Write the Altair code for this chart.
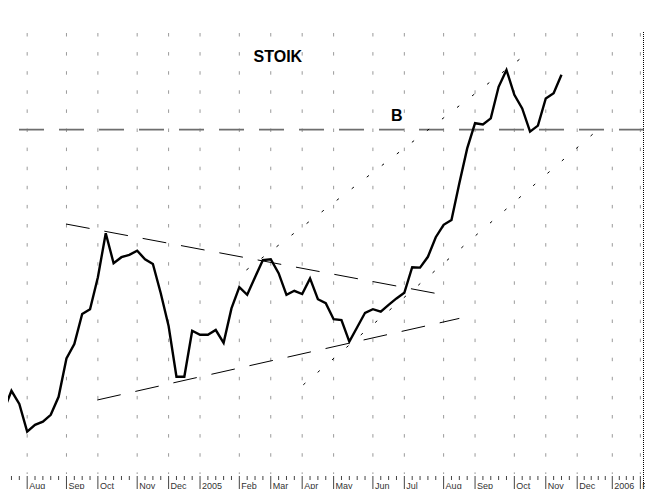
import altair as alt
import pandas as pd

# weekly closing prices (week index 0 = first week of Aug 2004)
weeks = list(range(-3, 69))
price = [1.78, 2.28, 1.95, 1.26, 1.43, 1.51, 1.68, 2.13, 3.09, 3.45, 4.20, 4.32, 5.12,
         6.22, 5.47, 5.62, 5.68, 5.78, 5.57, 5.45, 4.72, 3.90, 2.63,
         2.63, 3.78, 3.68, 3.68, 3.80, 3.48, 4.34, 4.87, 4.68, 5.12,
         5.55, 5.57, 5.22, 4.68, 4.78, 4.70, 5.09, 4.57, 4.47, 4.07,
         4.05, 3.51, 3.87, 4.23, 4.32, 4.26, 4.43, 4.59, 4.73, 5.37,
         5.36, 5.63, 6.12, 6.43, 6.55, 7.47, 8.34, 8.97, 8.94, 9.09,
         9.88, 10.30, 9.68, 9.34, 8.76, 8.91, 9.59, 9.72, 10.18]

# month starts (in week index) and their labels
month_week = [0, 5, 9, 14, 18, 22, 27, 31, 35, 39, 44, 48, 53, 57, 62, 66, 70, 75, 79]
month_label = ["Aug", "Sep", "Oct", "Nov", "Dec", "2005", "Feb", "Mar", "Apr", "May",
               "Jun", "Jul", "Aug", "Sep", "Oct", "Nov", "Dec", "2006", "F"]
minor_week = [w for w in range(-2, 80) if w not in month_week]

# trend lines (start week, start price, end week, end price)
dash_w0 = [4.94, 8.92]
dash_p0 = [6.45, 2.05]
dash_w1 = [52.96, 55.0]
dash_p1 = [4.68, 4.09]

dot_w0 = [27.9, 35.14]
dot_p0 = [5.30, 2.43]
dot_w1 = [63.6, 72.9]
dot_p1 = [10.71, 8.80]

level_b = 8.81

# annotations
ann_text = ["STOIK", "B"]
ann_w = [31.9, 47.05]
ann_p = [10.62, 9.14]

FONT = "Arial, Liberation Sans, sans-serif"
W = 636
xs = alt.Scale(domain=[-2.44, 70, 79.52], range=[0, 569.2, W], nice=False, zero=False)
ys = alt.Scale(domain=[0, 11.85], nice=False, zero=False)

df_price = pd.DataFrame({"w": weeks, "p": price})
df_month = pd.DataFrame({"w": month_week, "label": month_label})
df_minor = pd.DataFrame({"w": minor_week})
df_dash = pd.DataFrame({"w": dash_w0, "p": dash_p0, "w1": dash_w1, "p1": dash_p1})
df_dot = pd.DataFrame({"w": dot_w0, "p": dot_p0, "w1": dot_w1, "p1": dot_p1})
df_b = pd.DataFrame({"p": [level_b]})
df_ann = pd.DataFrame({"w": ann_w, "p": ann_p, "t": ann_text})

X = lambda: alt.X("w:Q", scale=xs, axis=None)
Y = lambda: alt.Y("p:Q", scale=ys, axis=None)

grid = alt.Chart(df_month).mark_rule(color="#9a9a9a", strokeWidth=1, strokeDash=[3.5, 15.6]).encode(
    x=X(), y=alt.value(25), y2=alt.value(466))

border = alt.Chart(df_b).mark_rule(color="#000000", strokeWidth=1, strokeDash=[1, 1]).encode(
    x=alt.value(W - 0.5), y=alt.value(24), y2=alt.value(481))

bline = alt.Chart(df_b).mark_rule(color="#6e6e6e", strokeWidth=1.7, strokeDash=[25, 15]).encode(
    y=Y())

dashed = alt.Chart(df_dash).mark_rule(color="#000000", strokeWidth=1, strokeDash=[24, 15]).encode(
    x=X(), y=Y(), x2="w1:Q", y2="p1:Q")

dotted = alt.Chart(df_dot).mark_rule(color="#000000", strokeWidth=1, strokeDash=[2.8, 16.2]).encode(
    x=X(), y=Y(), x2="w1:Q", y2="p1:Q")

line = alt.Chart(df_price).mark_line(color="#000000", strokeWidth=2.4, clip=True,
                                     strokeJoin="miter").encode(x=X(), y=Y())

ann = alt.Chart(df_ann).mark_text(font=FONT, fontWeight="bold", fontSize=16, color="#000000",
                                  baseline="middle", align="center").encode(
    x=X(), y=Y(), text="t:N")

major_ticks = alt.Chart(df_month).mark_rule(color="#444444", strokeWidth=1).encode(
    x=X(), y=alt.value(468), y2=alt.value(481))

minor_ticks = alt.Chart(df_minor).mark_rule(color="#444444", strokeWidth=1).encode(
    x=X(), y=alt.value(468), y2=alt.value(472))

labels = alt.Chart(df_month).mark_text(font=FONT, fontSize=9, color="#333333", align="left",
                                       baseline="alphabetic", dx=2).encode(
    x=X(), y=alt.value(480.5), text="label:N")

chart = alt.layer(grid, border, bline, dashed, dotted, line, ann, major_ticks, minor_ticks, labels).properties(
    width=W, height=474,
    padding={"left": 0, "top": 0, "right": 1, "bottom": 7},
    autosize="none",
    background="#ffffff",
).configure_view(stroke=None)

chart.save("out.html", embed_options={"renderer": "svg", "actions": False})
